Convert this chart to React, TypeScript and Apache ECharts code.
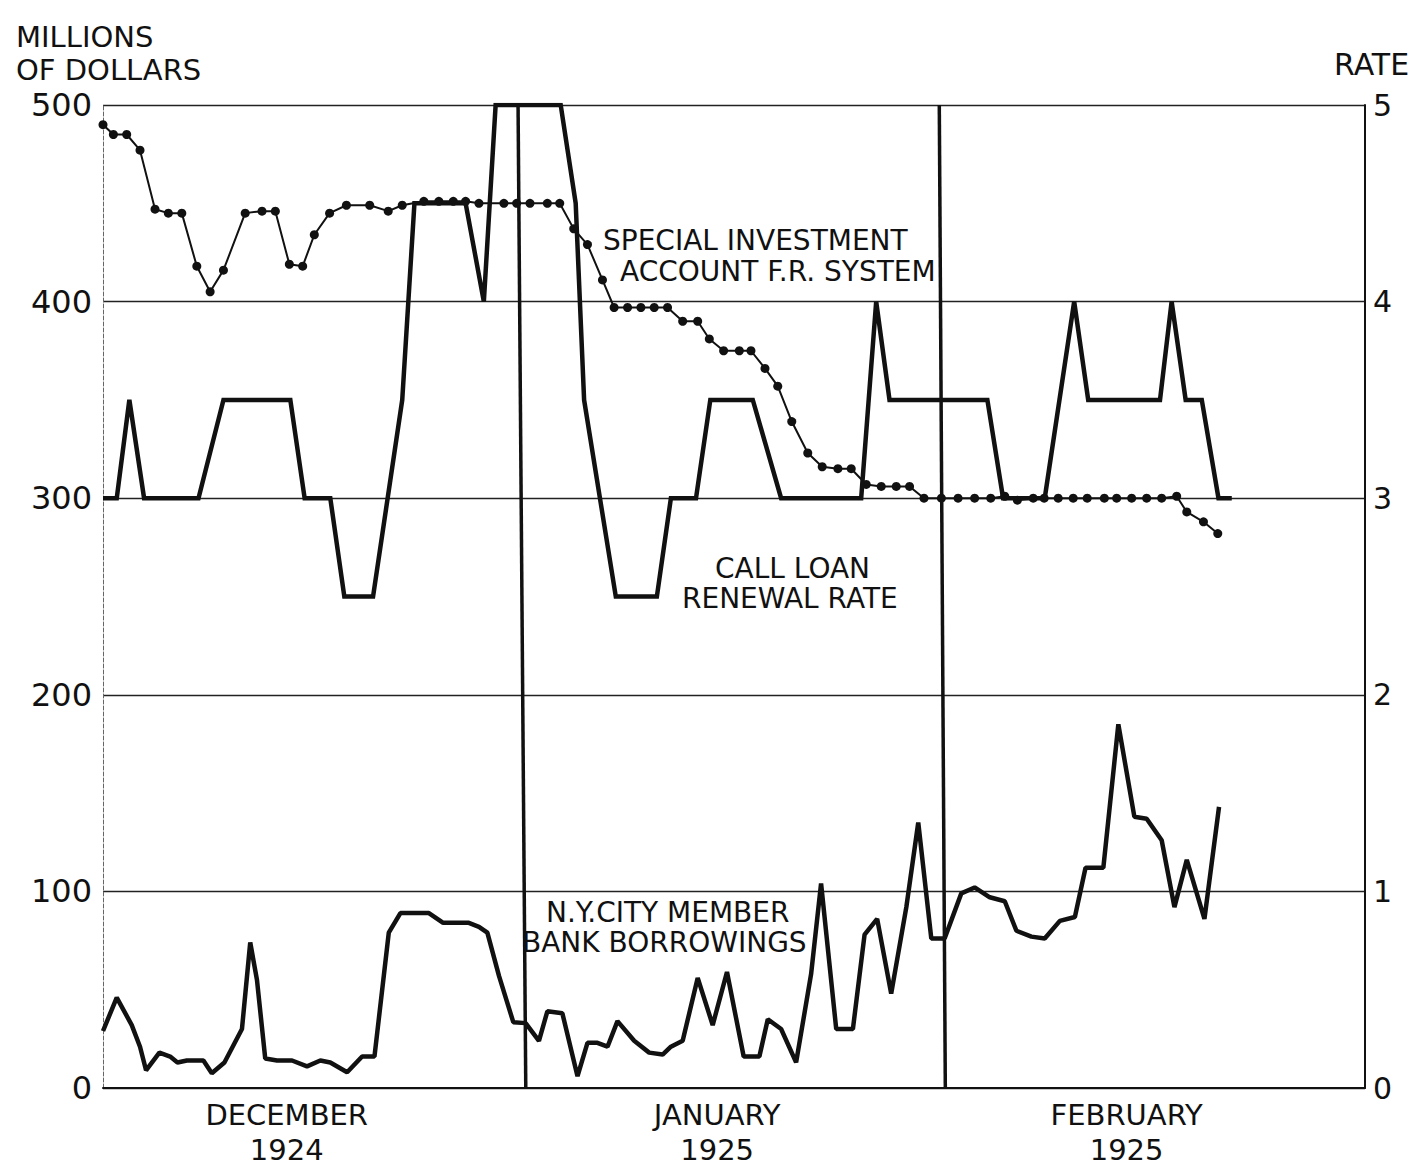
import React, { useEffect, useRef } from "react";
import * as echarts from "echarts";

// x unit: position along the time axis (approx. days, 0 = start of December 1924)
const specialX = [0, 0.74, 1.69, 2.64, 3.71, 4.66, 5.62, 6.69, 7.64, 8.59, 10.14, 11.34, 12.29, 13.29, 14.24, 15.07, 16.16, 17.36, 19.02, 20.34, 21.34, 22.88, 23.95, 24.98, 25.86, 26.81, 28.59, 29.5, 30.45, 31.69, 32.57, 33.57, 34.55, 35.62, 36.45, 37.41, 38.36, 39.31, 40.26, 41.34, 42.41, 43.24, 44.26, 45.38, 46.21, 47.21, 48.12, 49.12, 50.26, 51.29, 52.41, 53.36, 54.43, 55.5, 56.57, 57.52, 58.55, 59.79, 60.98, 62.16, 63.31, 64.31, 65.21, 66.34, 67.12, 68.12, 69.19, 70.19, 71.41, 72.29, 73.36, 74.43, 75.5, 76.57, 77.29, 78.48, 79.5];
const specialY = [490, 485, 485, 477, 447, 445, 445, 418, 405, 416, 445, 446, 446, 419, 418, 434, 445, 449, 449, 446, 449, 451, 451, 451, 451, 450, 450, 450, 450, 450, 450, 437, 429, 411, 397, 397, 397, 397, 397, 390, 390, 381, 375, 375, 375, 366, 357, 339, 323, 316, 315, 315, 307, 306, 306, 306, 300, 300, 300, 300, 300, 301, 299, 300, 300, 300, 300, 300, 300, 300, 300, 300, 300, 301, 293, 288, 282];

const rateX = [0, 0.98, 1.88, 2.93, 6.81, 8.59, 13.36, 14.38, 16.21, 17.21, 19.26, 21.34, 22.21, 25.86, 27.16, 28.0, 32.64, 33.71, 34.31, 36.57, 39.5, 40.5, 42.29, 43.31, 46.34, 48.36, 54.07, 55.14, 56.09, 63.07, 64.19, 67.16, 69.26, 70.26, 75.38, 76.21, 77.21, 78.36, 79.55, 80.5];
const rateY = [3.0, 3.0, 3.5, 3.0, 3.0, 3.5, 3.5, 3.0, 3.0, 2.5, 2.5, 3.5, 4.5, 4.5, 4.0, 5.0, 5.0, 4.5, 3.5, 2.5, 2.5, 3.0, 3.0, 3.5, 3.5, 3.0, 3.0, 4.0, 3.5, 3.5, 3.0, 3.0, 4.0, 3.5, 3.5, 4.0, 3.5, 3.5, 3.0, 3.0];

const borrowX = [0, 0.98, 2.05, 2.64, 3.07, 4.02, 4.79, 5.31, 5.98, 7.16, 7.76, 8.66, 9.91, 10.5, 10.98, 11.57, 12.41, 13.48, 14.55, 15.5, 16.21, 17.41, 18.48, 19.36, 20.38, 21.21, 23.24, 24.26, 26.09, 26.81, 27.41, 28.24, 29.26, 30.14, 31.09, 31.69, 32.76, 33.84, 34.55, 35.26, 35.98, 36.69, 37.88, 38.95, 39.91, 40.5, 41.34, 42.41, 43.48, 44.5, 45.69, 46.81, 47.41, 48.36, 49.43, 50.5, 51.21, 52.29, 53.48, 54.31, 55.21, 56.21, 57.29, 58.14, 59.07, 60.02, 61.21, 62.16, 63.24, 64.31, 65.14, 66.21, 67.16, 68.24, 69.31, 70.07, 71.34, 72.41, 73.55, 74.43, 75.5, 76.41, 77.29, 78.55, 79.59];
const borrowY = [29, 46, 32, 21, 9, 18, 16, 13, 14, 14, 7.5, 13, 30, 74, 55, 15, 14, 14, 11, 14, 13, 8, 16, 16, 79, 89, 89, 84, 84, 82, 79, 57, 33.5, 33, 24, 39, 38, 6, 23, 23, 21, 34, 24, 18, 17, 21, 24, 56, 32, 59, 16, 16, 35, 30, 13, 58, 104, 30, 30, 78, 86, 48, 92, 135, 76, 76, 99, 102, 97, 95, 80, 77, 76, 85, 87, 112, 112, 185, 138, 137, 126, 92, 116, 86, 143];

const monthLabelPos = [13.1, 43.8, 73.0];
const monthLabels = ["DECEMBER\n1924", "JANUARY\n1925", "FEBRUARY\n1925"];
const leftTicks = { min: 0, max: 500, interval: 100 };
const rightTicks = { min: 0, max: 5, interval: 1 };
const monthDividers = [
  [[29.6, 500], [30.15, 0]],
  [[59.64, 500], [60.07, 0]],
];

const FONT = "DejaVu Sans";
const INK = "#111";

const zip = (xs: number[], ys: number[]) => xs.map((x, i) => [x, ys[i]]);

export default function App() {
  const ref = useRef<HTMLDivElement>(null);
  useEffect(() => {
    document.body.style.margin = "0";
    const chart = echarts.init(ref.current!, null, { renderer: "svg" });
    const txt = (left: number, top: number, text: string, size = 28) => ({
      type: "text",
      left,
      top,
      style: { text, font: `${size}px ${FONT}`, fill: INK, lineHeight: 33 },
    });
    chart.setOption({
      animation: false,
      backgroundColor: "#fff",
      grid: { left: 103, right: 49, top: 105, bottom: 80 },
      xAxis: {
        type: "value",
        min: 0,
        max: 90,
        axisLine: { show: true, lineStyle: { color: INK, width: 2 } },
        axisTick: { show: false },
        splitLine: { show: false },
        axisLabel: {
          customValues: monthLabelPos,
          formatter: (v: number) => {
            let best = 0;
            monthLabelPos.forEach((p, i) => {
              if (Math.abs(p - v) < Math.abs(monthLabelPos[best] - v)) best = i;
            });
            return monthLabels[best];
          },
          color: INK,
          fontFamily: FONT,
          fontSize: 29,
          lineHeight: 35,
          margin: 9,
        },
      },
      yAxis: [
        {
          type: "value",
          ...leftTicks,
          position: "left",
          axisLine: { show: true, lineStyle: { color: "#666", width: 1, type: "dashed" } },
          axisTick: { show: false },
          splitLine: { show: true, lineStyle: { color: "#222", width: 1.3 } },
          axisLabel: { color: INK, fontFamily: FONT, fontSize: 32, margin: 11 },
        },
        {
          type: "value",
          ...rightTicks,
          position: "right",
          axisLine: { show: true, lineStyle: { color: INK, width: 2 } },
          axisTick: { show: false },
          splitLine: { show: false },
          axisLabel: { color: INK, fontFamily: FONT, fontSize: 30, margin: 8 },
        },
      ],
      graphic: [
        txt(16, 20, "MILLIONS\nOF DOLLARS", 29),
        txt(1334, 48, "RATE", 30),
        txt(603, 224, "SPECIAL INVESTMENT"),
        txt(620, 255, "ACCOUNT F.R. SYSTEM"),
        txt(715, 552, "CALL LOAN"),
        txt(682, 582, "RENEWAL RATE"),
        txt(546, 896, "N.Y.CITY MEMBER"),
        txt(522, 926, "BANK BORROWINGS"),
      ],
      series: [
        {
          name: "Special Investment Account F.R. System",
          type: "line",
          yAxisIndex: 0,
          data: zip(specialX, specialY),
          symbol: "circle",
          symbolSize: 9,
          showAllSymbol: true,
          lineStyle: { color: INK, width: 2 },
          itemStyle: { color: INK },
          z: 3,
        },
        {
          name: "Call Loan Renewal Rate",
          type: "line",
          yAxisIndex: 1,
          data: zip(rateX, rateY),
          symbol: "none",
          lineStyle: { color: INK, width: 4.5, join: "miter" },
          z: 4,
        },
        {
          name: "N.Y. City Member Bank Borrowings",
          type: "line",
          yAxisIndex: 0,
          data: zip(borrowX, borrowY),
          symbol: "none",
          lineStyle: { color: INK, width: 4.5 },
          z: 4,
          markLine: {
            silent: true,
            symbol: ["none", "none"],
            label: { show: false },
            lineStyle: { color: INK, width: 3.5, type: "solid" },
            data: monthDividers.map(([a, b]) => [{ coord: a }, { coord: b }]),
          },
        },
      ],
    });
    return () => chart.dispose();
  }, []);
  return <div ref={ref} style={{ width: 1414, height: 1168 }} />;
}
